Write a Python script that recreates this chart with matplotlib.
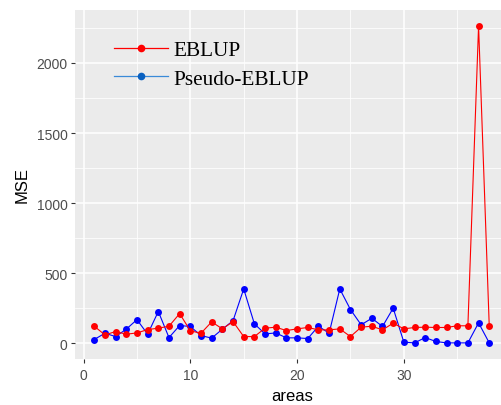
import matplotlib
matplotlib.use("Agg")

import matplotlib.pyplot as plt
from matplotlib.lines import Line2D
import numpy as np

# ── data ─────────────────────────────────────────────────────────────────────
areas = np.arange(1, 39)
eblup = [121, 59, 83, 64, 73, 97, 107, 121, 211, 88,
         71, 152, 102, 154, 47, 47, 107, 114, 90, 102,
         112, 95, 95, 102, 47, 114, 121, 95, 143, 102,
         112, 114, 112, 112, 124, 124, 2265, 121]
pseudo_eblup = [26, 71, 47, 100, 168, 64, 226, 40, 126, 119,
                54, 36, 100, 160, 387, 138, 66, 73, 38, 38,
                33, 121, 71, 387, 240, 131, 178, 119, 250, 7,
                2, 40, 12, 2, 2, 2, 145, 2]

# ── figure ───────────────────────────────────────────────────────────────────
W, H = 502, 406
fig = plt.figure(figsize=(W / 100, H / 100), dpi=100)
fig.patch.set_facecolor("white")
ax = fig.add_axes([74.5 / W, 46 / H, 434.5 / W, 349 / H])
ax.set_facecolor("#EBEBEB")

ax.set_xlim(-0.85, 39.85)
ax.set_ylim(-113, 2378)

ax.set_xticks([0, 10, 20, 30])
ax.set_xticks([5, 15, 25, 35], minor=True)
ax.set_yticks([0, 500, 1000, 1500, 2000])
ax.set_yticks([250, 750, 1250, 1750, 2250], minor=True)
ax.grid(which="major", color="white", linewidth=1.1)
ax.grid(which="minor", color="white", linewidth=0.55)
ax.set_axisbelow(True)
for spine in ax.spines.values():
    spine.set_visible(False)

ax.tick_params(which="major", length=3, width=0.8, color="#333333",
               labelcolor="#4D4D4D", labelsize=10, pad=2)
ax.tick_params(axis="x", which="major", pad=3.5)
ax.tick_params(which="minor", length=0)
for lab in ax.get_xticklabels() + ax.get_yticklabels():
    lab.set_family("Liberation Sans")

ax.plot(areas, pseudo_eblup, color="#0000FF", linewidth=0.8,
        marker="o", markersize=5, markeredgewidth=0)
ax.plot(areas, eblup, color="#FF0000", linewidth=0.8,
        marker="o", markersize=5, markeredgewidth=0)

ax.set_xlabel("areas", family="Liberation Sans", fontsize=12, labelpad=4)
ax.set_ylabel("MSE", family="Liberation Sans", fontsize=12, labelpad=5)

handles = [
    Line2D([], [], color="#FF0000", linewidth=0.9, marker="o",
           markersize=5.5, markeredgewidth=0),
    Line2D([], [], color="#3A8AD8", linewidth=0.9, marker="o",
           markerfacecolor="#0A60C0", markersize=5.5, markeredgewidth=0),
]
ax.legend(handles, ["EBLUP", "Pseudo-EBLUP"], loc="upper left",
          bbox_to_anchor=(0.091, 0.913), frameon=False, borderpad=0,
          borderaxespad=0, handlelength=2.55, handletextpad=0.24,
          labelspacing=0.4,
          prop={"family": "Liberation Serif", "size": 15.3})

fig.savefig("out.png", dpi=100)
